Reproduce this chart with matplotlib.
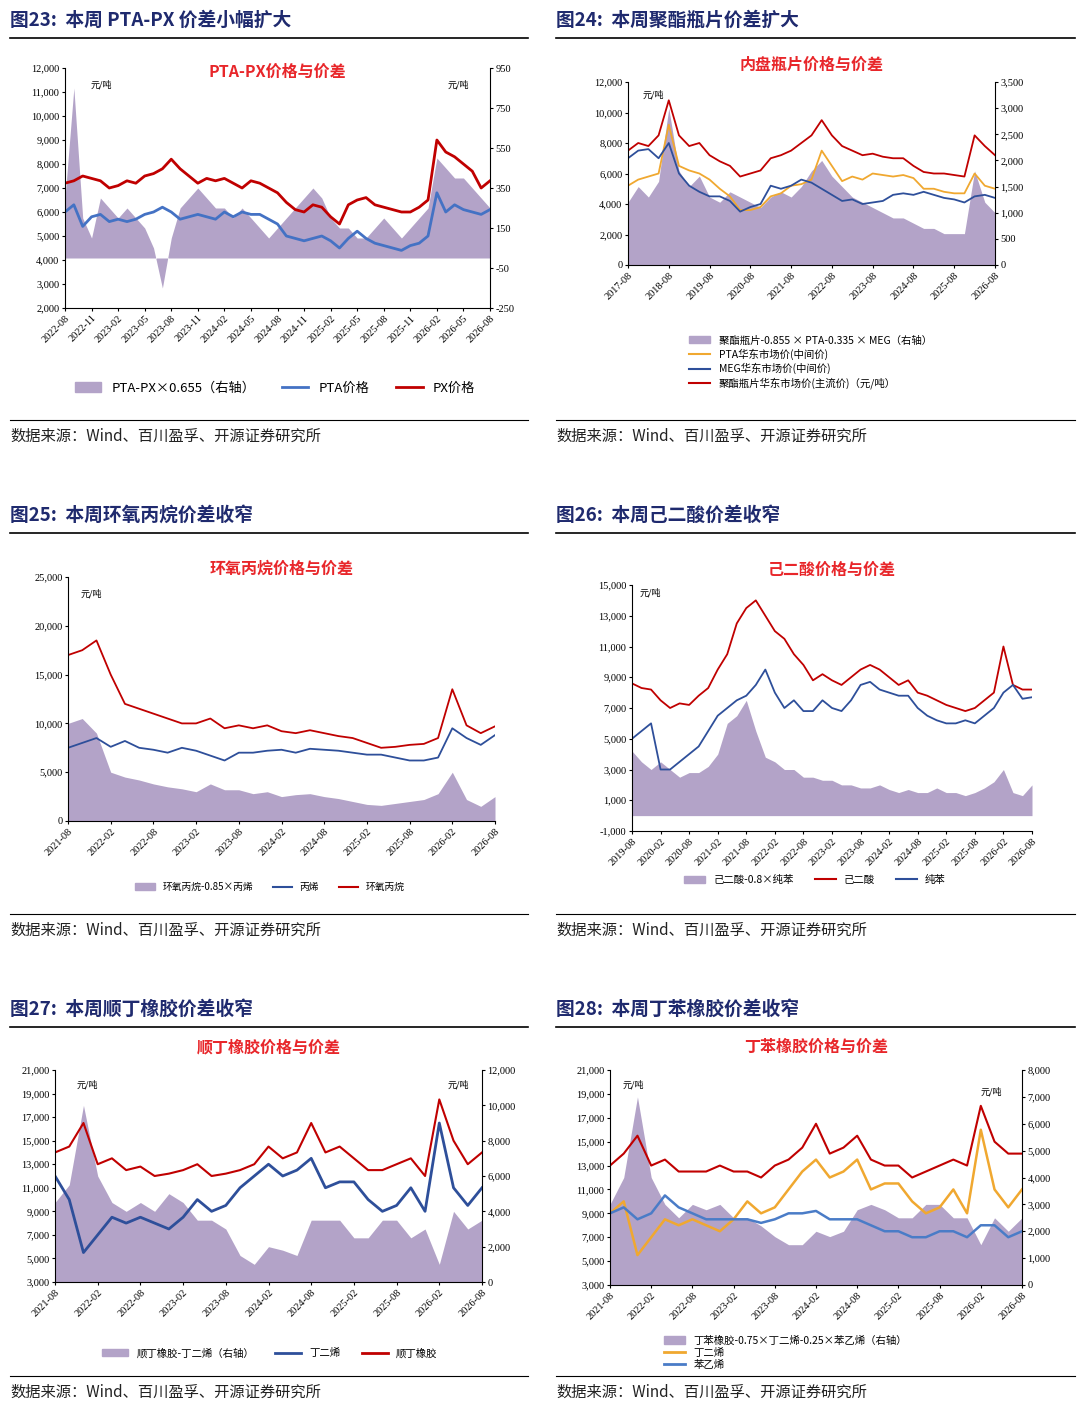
import numpy as np
import matplotlib
matplotlib.use("Agg")
from matplotlib import pyplot as plt

plt.rcParams['font.family'] = ['Liberation Serif', 'Noto Sans CJK SC']
CJK = ['Noto Sans CJK SC', 'DejaVu Sans']
NAVY = '#1f2a6e'
RED = '#c00000'
BLUE = '#2e4f9a'
ORANGE = '#f0a830'
FILL = '#b3a3c8'

# ---- data ----
# fig 23, monthly 2022-08 .. 2026-08
p23_px = [7200, 7300, 7500, 7400, 7300, 7000, 7100, 7300, 7200, 7500, 7600, 7800, 8200, 7800, 7500, 7200,
          7400, 7300, 7400, 7200, 7000, 7300, 7200, 7000, 6800, 6400, 6100, 6000, 6300, 6200, 5800, 5500,
          6300, 6500, 6600, 6300, 6200, 6100, 6000, 6000, 6200, 6500, 9000, 8500, 8300, 8000, 7700, 7000, 7300]
p23_pta = [6000, 6300, 5400, 5800, 5900, 5600, 5700, 5600, 5700, 5900, 6000, 6200, 6000, 5700, 5800, 5900,
           5800, 5700, 6000, 5800, 6000, 5900, 5900, 5700, 5500, 5000, 4900, 4800, 4900, 5000, 4800, 4500,
           4900, 5200, 4900, 4700, 4600, 4500, 4400, 4600, 4700, 5000, 6800, 6000, 6300, 6100, 6000, 5900, 6100]
p23_spread = [300, 850, 200, 100, 300, 250, 200, 250, 200, 150, 50, -150, 100, 250, 300, 350, 300, 250, 250,
              200, 250, 200, 150, 100, 150, 200, 250, 300, 350, 300, 200, 150, 150, 100, 100, 150, 200, 150,
              100, 150, 200, 250, 500, 450, 400, 400, 350, 300, 250]
t23 = ['2022-08', '2022-11', '2023-02', '2023-05', '2023-08', '2023-11', '2024-02', '2024-05', '2024-08',
       '2024-11', '2025-02', '2025-05', '2025-08', '2025-11', '2026-02', '2026-05', '2026-08']

# fig 24, quarterly 2017-08 .. 2026-08
p24_bottle = [7500, 8000, 7800, 8500, 10800, 8500, 7800, 8000, 7200, 6800, 6500, 5800, 6000, 6200, 7000, 7200,
              7500, 8000, 8500, 9500, 8500, 7800, 7500, 7200, 7300, 7100, 7000, 7000, 6500, 6100, 6000, 6000,
              5900, 5800, 8500, 7800, 7200]
p24_meg = [7000, 7500, 7600, 7000, 8000, 6000, 5200, 4800, 4500, 4500, 4200, 3500, 3800, 4000, 5200, 5000,
           5200, 5600, 5400, 5000, 4600, 4200, 4300, 4000, 4100, 4200, 4600, 4700, 4600, 4800, 4600, 4400,
           4300, 4100, 4500, 4600, 4400]
p24_pta = [5200, 5600, 5800, 6000, 9200, 6500, 6200, 6000, 5600, 5000, 4500, 3600, 3600, 3800, 4500, 4700,
           5200, 5300, 5600, 7500, 6500, 5500, 5800, 5600, 6000, 5900, 5800, 5900, 5700, 5000, 5000, 4800,
           4700, 4700, 6000, 5200, 5000]
p24_spread = [1200, 1500, 1300, 1600, 3000, 1800, 1500, 1700, 1300, 1200, 1400, 1300, 1200, 1100, 1300, 1400,
              1300, 1500, 1800, 2000, 1700, 1500, 1300, 1200, 1100, 1000, 900, 900, 800, 700, 700, 600,
              600, 600, 1800, 1200, 1000]
t24 = ['%d-08' % y for y in range(2017, 2027)]

# fig 25, bi-monthly 2021-08 .. 2026-08
p25_po = [17000, 17500, 18500, 15000, 12000, 11500, 11000, 10500, 10000, 10000, 10500, 9500, 9800, 9500, 9800,
          9200, 9000, 9300, 9000, 8700, 8500, 8000, 7500, 7600, 7800, 7900, 8500, 13500, 9800, 9000, 9700]
p25_pp = [7500, 8000, 8500, 7600, 8200, 7500, 7300, 7000, 7500, 7200, 6700, 6200, 7000, 7000, 7200, 7300,
          7000, 7400, 7300, 7200, 7000, 6800, 6800, 6500, 6200, 6200, 6500, 9500, 8500, 7800, 8800]
p25_spread = [10000, 10500, 9000, 5000, 4500, 4200, 3800, 3500, 3300, 3000, 3800, 3200, 3200, 2800, 3000,
              2500, 2700, 2800, 2500, 2300, 2000, 1700, 1600, 1800, 2000, 2200, 2800, 5000, 2200, 1500, 2500]
t25 = ['2021-08', '2022-02', '2022-08', '2023-02', '2023-08', '2024-02', '2024-08', '2025-02', '2025-08',
       '2026-02', '2026-08']

# fig 26, bi-monthly 2019-08 .. 2026-08
p26_aa = [8600, 8300, 8200, 7500, 7000, 7300, 7200, 7800, 8300, 9500, 10500, 12500, 13500, 14000, 13000, 12000,
          11500, 10500, 9800, 8800, 9200, 8800, 8500, 9000, 9500, 9800, 9500, 9000, 8500, 8800, 8000, 7800,
          7500, 7200, 7000, 6800, 7000, 7500, 8000, 11000, 8500, 8200, 8200]
p26_bz = [5000, 5500, 6000, 3000, 3000, 3500, 4000, 4500, 5500, 6500, 7000, 7500, 7800, 8500, 9500, 8000,
          7000, 7500, 6800, 6800, 7500, 7000, 6800, 7500, 8500, 8700, 8200, 8000, 7800, 7800, 7000, 6500,
          6200, 6000, 6000, 6200, 6000, 6500, 7000, 8000, 8500, 7600, 7700]
p26_spread = [4200, 3500, 3000, 3500, 3000, 2500, 2800, 2800, 3200, 4000, 6000, 6500, 7500, 5500, 3800, 3500,
              3000, 3000, 2500, 2500, 2300, 2300, 2000, 2000, 1800, 1800, 2000, 1700, 1500, 1700, 1500, 1500,
              1800, 1500, 1500, 1300, 1500, 1800, 2200, 3000, 1500, 1300, 2000]
t26 = ['2019-08', '2020-02', '2020-08', '2021-02', '2021-08', '2022-02', '2022-08', '2023-02', '2023-08',
       '2024-02', '2024-08', '2025-02', '2025-08', '2026-02', '2026-08']

# fig 27, bi-monthly 2021-08 .. 2026-08
p27_br = [14000, 14500, 16500, 13000, 13500, 12500, 12800, 12000, 12200, 12500, 13000, 12000, 12200, 12500,
          13000, 14500, 13500, 14000, 16500, 14000, 14500, 13500, 12500, 12500, 13000, 13500, 12000, 18500,
          15000, 13000, 14000]
p27_bd = [12000, 10000, 5500, 7000, 8500, 8000, 8500, 8000, 7500, 8500, 10000, 9000, 9500, 11000, 12000,
          13000, 12000, 12500, 13500, 11000, 11500, 11500, 10000, 9000, 9500, 11000, 9000, 16500, 11000, 9500, 11000]
p27_spread = [4500, 5500, 10000, 6000, 4500, 4000, 4500, 4000, 5000, 4500, 3500, 3500, 3000, 1500, 1000,
              2000, 1800, 1500, 3500, 3500, 3500, 2500, 2500, 3500, 3500, 2500, 3000, 1000, 4000, 3000, 3500]

# fig 28, bi-monthly 2021-08 .. 2026-08
p28_sbr = [13000, 14000, 15500, 13000, 13500, 12500, 12500, 12500, 13000, 12500, 12500, 12000, 13000, 13500,
           14500, 16500, 14000, 14500, 15500, 13500, 13000, 13000, 12000, 12500, 13000, 13500, 13000, 18000,
           15000, 14000, 14000]
p28_bd = [9000, 10000, 5500, 7000, 8500, 8000, 8500, 8000, 7500, 8500, 10000, 9000, 9500, 11000, 12500,
          13500, 12000, 12500, 13500, 11000, 11500, 11500, 10000, 9000, 9500, 11000, 9000, 16000, 11000, 9500, 11000]
p28_sm = [9000, 9500, 8500, 9000, 10500, 9500, 9000, 8500, 8500, 8500, 8500, 8200, 8500, 9000, 9000, 9200,
          8500, 8500, 8500, 8000, 7500, 7500, 7000, 7000, 7500, 7500, 7000, 8000, 8000, 7000, 7500]
p28_spread = [3000, 4000, 7000, 4000, 3000, 2500, 3000, 2800, 3000, 2500, 2500, 2200, 1800, 1500, 1500, 2000,
              1800, 2000, 2800, 3000, 2800, 2500, 2500, 3000, 3000, 2500, 2500, 1500, 2500, 2000, 2500]

W, H = 1080, 1416
fig = plt.figure(figsize=(W / 100, H / 100), dpi=100)


def px_axes(x0, y0, x1, y1):
    return fig.add_axes([x0 / W, 1 - y1 / H, (x1 - x0) / W, (y1 - y0) / H])


def hline(x0, x1, y, lw=1.0):
    fig.add_artist(plt.Line2D([x0 / W, x1 / W], [1 - y / H, 1 - y / H], color='black', lw=lw))


def header(x0, x1, y, text, src_y):
    fig.text(x0 / W, 1 - y / H, text, family=CJK, fontsize=13.5, color=NAVY, weight='bold', va='center')
    hline(x0, x1, y + 18, 1.2)
    hline(x0, x1, src_y - 16, 0.8)
    fig.text(x0 / W, 1 - src_y / H, '数据来源：Wind、百川盈孚、开源证券研究所', family=CJK, fontsize=11,
             va='center', color='#222222')


def xs(series, n):
    return np.linspace(0, n, len(series))


def style(ax, n, labels, step, ylim, yticks, fs=7.5):
    ax.set_xlim(0, n)
    ax.set_ylim(*ylim)
    ax.set_yticks(yticks)
    ax.set_yticklabels(['{:,}'.format(v) for v in yticks], fontsize=fs)
    ax.set_xticks(np.arange(len(labels)) * step)
    ax.set_xticklabels(labels, rotation=45, ha='right', fontsize=fs, rotation_mode='anchor')
    for s in ['top', 'right']:
        ax.spines[s].set_visible(False)
    ax.tick_params(length=2, pad=2)


def twin(ax, ylim, yticks, fs=7.5):
    ax2 = ax.twinx()
    ax2.set_ylim(*ylim)
    ax2.set_yticks(yticks)
    ax2.set_yticklabels(['{:,}'.format(v) for v in yticks], fontsize=fs)
    for s in ['top', 'left', 'bottom']:
        ax2.spines[s].set_visible(False)
    ax2.tick_params(length=2, pad=2)
    ax.set_zorder(ax2.get_zorder() + 1)
    ax.patch.set_visible(False)
    return ax2


def ctitle(ax, text, y=1.0):
    ax.text(0.5, y, text, transform=ax.transAxes, ha='center', va='bottom', color='#e8262a',
            family=CJK, fontsize=11.5, weight='bold')


def unit(ax, x, y=0.93):
    ax.text(x, y, '元/吨', transform=ax.transAxes, family=CJK, fontsize=6.5, va='center')


# ---- fig 23 ----
header(10, 528, 20, '图23:  本周 PTA-PX 价差小幅扩大', 436)
a = px_axes(65, 68, 490, 308)
n = 48
style(a, n, t23, 3, (2000, 12000), list(range(2000, 12001, 1000)))
b = twin(a, (-250, 950), list(range(-250, 951, 200)))
b.fill_between(xs(p23_spread, n), 0, p23_spread, color=FILL, lw=0)
a.plot(xs(p23_pta, n), p23_pta, color='#4472c4', lw=2)
a.plot(xs(p23_px, n), p23_px, color=RED, lw=2)
ctitle(a, 'PTA-PX价格与价差', 0.95)
unit(a, 0.06); unit(a, 0.9)
fig.legend(handles=[plt.Rectangle((0, 0), 1, 1, color=FILL), plt.Line2D([], [], color='#4472c4', lw=2),
                    plt.Line2D([], [], color=RED, lw=2)],
           labels=['PTA-PX×0.655（右轴）', 'PTA价格', 'PX价格'], loc='center', ncol=3, frameon=False,
           bbox_to_anchor=(275 / W, 1 - 388 / H), prop={'family': CJK, 'size': 9.5}, handlelength=2)

# ---- fig 24 ----
header(556, 1075, 20, '图24:  本周聚酯瓶片价差扩大', 436)
a = px_axes(628, 82, 995, 265)
n = 108
style(a, n, t24, 12, (0, 12000), list(range(0, 12001, 2000)))
b = twin(a, (0, 3500), list(range(0, 3501, 500)))
b.fill_between(xs(p24_spread, n), 0, p24_spread, color=FILL, lw=0)
a.plot(xs(p24_pta, n), p24_pta, color=ORANGE, lw=1.3)
a.plot(xs(p24_meg, n), p24_meg, color=BLUE, lw=1.3)
a.plot(xs(p24_bottle, n), p24_bottle, color=RED, lw=1.3)
ctitle(a, '内盘瓶片价格与价差', 1.05)
unit(a, 0.04)
fig.legend(handles=[plt.Rectangle((0, 0), 1, 1, color=FILL), plt.Line2D([], [], color=ORANGE),
                    plt.Line2D([], [], color=BLUE), plt.Line2D([], [], color=RED)],
           labels=['聚酯瓶片-0.855 × PTA-0.335 × MEG（右轴）', 'PTA华东市场价(中间价)', 'MEG华东市场价(中间价)',
                   '聚酯瓶片华东市场价(主流价)（元/吨）'],
           loc='upper left', ncol=1, frameon=False, bbox_to_anchor=(680 / W, 1 - 326 / H),
           prop={'family': CJK, 'size': 7.5}, handlelength=2, labelspacing=0.3)

# ---- fig 25 ----
header(10, 528, 515, '图25:  本周环氧丙烷价差收窄', 930)
a = px_axes(68, 577, 495, 821)
n = 60
style(a, n, t25, 6, (0, 25000), list(range(0, 25001, 5000)))
a.fill_between(xs(p25_spread, n), 0, p25_spread, color=FILL, lw=0)
a.plot(xs(p25_pp, n), p25_pp, color=BLUE, lw=1.3)
a.plot(xs(p25_po, n), p25_po, color=RED, lw=1.3)
ctitle(a, '环氧丙烷价格与价差', 1.0)
unit(a, 0.03)
fig.legend(handles=[plt.Rectangle((0, 0), 1, 1, color=FILL), plt.Line2D([], [], color=BLUE),
                    plt.Line2D([], [], color=RED)],
           labels=['环氧丙烷-0.85×丙烯', '丙烯', '环氧丙烷'], loc='center', ncol=3, frameon=False,
           bbox_to_anchor=(270 / W, 1 - 887 / H), prop={'family': CJK, 'size': 7}, handlelength=2)

# ---- fig 26 ----
header(556, 1075, 515, '图26:  本周己二酸价差收窄', 930)
a = px_axes(632, 585, 1032, 831)
n = 84
style(a, n, t26, 6, (-1000, 15000), list(range(-1000, 15001, 2000)))
a.fill_between(xs(p26_spread, n), 0, p26_spread, color=FILL, lw=0)
a.plot(xs(p26_aa, n), p26_aa, color=RED, lw=1.3)
a.plot(xs(p26_bz, n), p26_bz, color=BLUE, lw=1.3)
ctitle(a, '己二酸价格与价差', 1.03)
unit(a, 0.02, 0.97)
fig.legend(handles=[plt.Rectangle((0, 0), 1, 1, color=FILL), plt.Line2D([], [], color=RED),
                    plt.Line2D([], [], color=BLUE)],
           labels=['己二酸-0.8×纯苯', '己二酸', '纯苯'], loc='center', ncol=3, frameon=False,
           bbox_to_anchor=(815 / W, 1 - 880 / H), prop={'family': CJK, 'size': 7.5}, handlelength=2)

# ---- fig 27 ----
header(10, 528, 1009, '图27:  本周顺丁橡胶价差收窄', 1392)
a = px_axes(55, 1070, 482, 1282)
n = 60
style(a, n, t25, 6, (3000, 21000), list(range(3000, 21001, 2000)))
b = twin(a, (0, 12000), list(range(0, 12001, 2000)))
b.fill_between(xs(p27_spread, n), 0, p27_spread, color=FILL, lw=0)
a.plot(xs(p27_bd, n), p27_bd, color=BLUE, lw=2)
a.plot(xs(p27_br, n), p27_br, color=RED, lw=1.5)
ctitle(a, '顺丁橡胶价格与价差', 1.07)
unit(a, 0.05, 0.93); unit(a, 0.92, 0.93)
fig.legend(handles=[plt.Rectangle((0, 0), 1, 1, color=FILL), plt.Line2D([], [], color=BLUE, lw=2),
                    plt.Line2D([], [], color=RED, lw=2)],
           labels=['顺丁橡胶-丁二烯（右轴）', '丁二烯', '顺丁橡胶'], loc='center', ncol=3, frameon=False,
           bbox_to_anchor=(270 / W, 1 - 1353 / H), prop={'family': CJK, 'size': 7.5}, handlelength=2.5)

# ---- fig 28 ----
header(556, 1075, 1009, '图28:  本周丁苯橡胶价差收窄', 1392)
a = px_axes(610, 1070, 1022, 1285)
style(a, n, t25, 6, (3000, 21000), list(range(3000, 21001, 2000)))
b = twin(a, (0, 8000), list(range(0, 8001, 1000)))
b.fill_between(xs(p28_spread, n), 0, p28_spread, color=FILL, lw=0)
a.plot(xs(p28_bd, n), p28_bd, color=ORANGE, lw=1.8)
a.plot(xs(p28_sm, n), p28_sm, color='#4a7cc7', lw=1.8)
a.plot(xs(p28_sbr, n), p28_sbr, color=RED, lw=1.5)
ctitle(a, '丁苯橡胶价格与价差', 1.07)
unit(a, 0.03, 0.93); unit(a, 0.9, 0.9)
fig.legend(handles=[plt.Rectangle((0, 0), 1, 1, color=FILL), plt.Line2D([], [], color=ORANGE, lw=2),
                    plt.Line2D([], [], color='#4a7cc7', lw=2)],
           labels=['丁苯橡胶-0.75×丁二烯-0.25×苯乙烯（右轴）', '丁二烯', '苯乙烯'], loc='upper left',
           ncol=1, frameon=False, bbox_to_anchor=(655 / W, 1 - 1326 / H),
           prop={'family': CJK, 'size': 7.5}, handlelength=2, labelspacing=0.2)

fig.savefig('out.png', dpi=100)
